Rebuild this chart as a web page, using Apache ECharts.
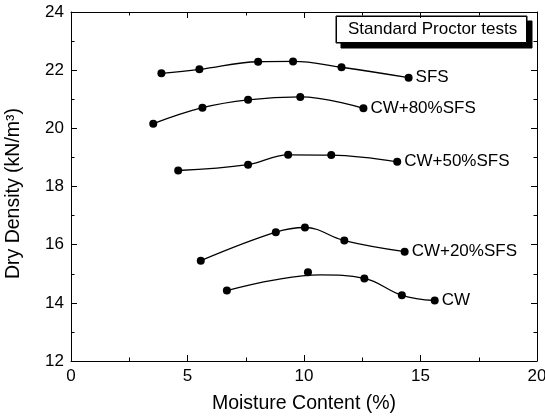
<!DOCTYPE html>
<html><head><meta charset="utf-8">
<script src="https://cdn.jsdelivr.net/npm/echarts@6/dist/echarts.min.js"></script>
<style>html,body{margin:0;padding:0;background:#fff}#c{width:545px;height:420px}</style>
</head><body><div id="c"></div>
<script>
const xTicks = [0, 5, 10, 15, 20];
const yTicks = [12, 14, 16, 18, 20, 22, 24];
const seriesNames = ['SFS', 'CW+80%SFS', 'CW+50%SFS', 'CW+20%SFS', 'CW'];
const sfsX = [3.88, 5.51, 8.03, 9.53, 11.61, 14.49];
const sfsY = [21.89, 22.03, 22.29, 22.30, 22.10, 21.74];
const cw80X = [3.53, 5.64, 7.60, 9.84, 12.55];
const cw80Y = [20.16, 20.71, 20.98, 21.08, 20.69];
const cw50X = [4.60, 7.60, 9.32, 11.17, 14.00];
const cw50Y = [18.55, 18.75, 19.09, 19.08, 18.85];
const cw20X = [5.57, 8.79, 10.04, 11.73, 14.32];
const cw20Y = [15.45, 16.43, 16.59, 16.14, 15.76];
const cwX = [6.69, 10.17, 12.59, 14.20, 15.61];
const cwY = [14.42, 15.05, 14.84, 14.26, 14.08];
// fitted curve for CW
const cwFitX = [6.69, 8.70, 10.70, 12.59, 14.20, 15.61];
const cwFitY = [14.42, 14.78, 14.96, 14.84, 14.26, 14.08];
const boxTitle = 'Standard Proctor tests';
const xName = 'Moisture Content (%)';
const yName = 'Dry Density (kN/m³)';

const FONT = 'Liberation Sans, Arial, sans-serif';
const zip = (xs, ys) => xs.map((x, i) => [x, ys[i]]);

const labelStyle = { show: true, formatter: '{a}', distance: 7, fontSize: 17, color: '#000', fontFamily: FONT };

function curveSeries(name, xs, ys, withSymbols) {
  return {
    name: name, type: 'line', data: zip(xs, ys), smooth: 0.4,
    symbol: 'circle', symbolSize: 8, showSymbol: withSymbols,
    itemStyle: { color: '#000', opacity: 1 }, lineStyle: { color: '#000', width: 1.3 },
    endLabel: labelStyle, emphasis: { disabled: true }, z: 3
  };
}

const series = [
  curveSeries(seriesNames[0], sfsX, sfsY, true),
  curveSeries(seriesNames[1], cw80X, cw80Y, true),
  curveSeries(seriesNames[2], cw50X, cw50Y, true),
  curveSeries(seriesNames[3], cw20X, cw20Y, true),
  curveSeries(seriesNames[4], cwFitX, cwFitY, false),
  { name: 'CW points', type: 'scatter', data: zip(cwX, cwY), symbol: 'circle', symbolSize: 8,
    itemStyle: { color: '#000', opacity: 1 }, emphasis: { disabled: true }, z: 4 }
];

const axisCommon = {
  axisLine: { show: true, onZero: false, lineStyle: { color: '#000', width: 1 } },
  axisTick: { show: true, inside: true, length: 6, lineStyle: { color: '#000', width: 1 } },
  minorTick: { show: true, splitNumber: 2, length: 3.5, lineStyle: { color: '#000', width: 1 } },
  splitLine: { show: false }, minorSplitLine: { show: false }
};

const xMin = xTicks[0], xMax = xTicks[xTicks.length - 1], xInt = xTicks[1] - xTicks[0];
const yMin = yTicks[0], yMax = yTicks[yTicks.length - 1], yInt = yTicks[1] - yTicks[0];

const option = {
  animation: false,
  backgroundColor: '#fff',
  textStyle: { fontFamily: FONT },
  graphic: [{
    type: 'group', x: 336, y: 16, z: 100,
    children: [
      { type: 'rect', x: 0, y: 0, shape: { width: 191, height: 27 },
        style: { fill: '#ffffff', stroke: '#000000', lineWidth: 1,
                 shadowColor: 'rgba(0,0,0,1)', shadowOffsetX: 5, shadowOffsetY: 5, shadowBlur: 0.01 } },
      { type: 'rect', x: 0.5, y: 0.5, shape: { width: 190, height: 26 }, style: { fill: '#ffffff', stroke: '#000000', lineWidth: 1 } },
      { type: 'text', x: 12, y: 5, style: { text: boxTitle, fill: '#000', font: '17px Liberation Sans, Arial, sans-serif' } }
    ]
  }],
  grid: { left: 71, right: 8, top: 12, bottom: 59, containLabel: false, outerBoundsMode: 'none' },
  xAxis: [
    Object.assign({}, axisCommon, {
      type: 'value', position: 'bottom', min: xMin, max: xMax, interval: xInt,
      axisLabel: { fontSize: 17, color: '#000', margin: 7, fontFamily: FONT },
      name: xName, nameLocation: 'middle', nameGap: 33,
      nameTextStyle: { fontSize: 19.5, color: '#000', fontFamily: FONT }
    }),
    Object.assign({}, axisCommon, {
      type: 'value', position: 'top', min: xMin, max: xMax, interval: xInt,
      axisLabel: { show: false }
    })
  ],
  yAxis: [
    Object.assign({}, axisCommon, {
      type: 'value', position: 'left', min: yMin, max: yMax, interval: yInt,
      axisLabel: { fontSize: 17, color: '#000', margin: 7, fontFamily: FONT },
      name: yName, nameLocation: 'middle', nameGap: 47, nameRotate: 90,
      nameTextStyle: { fontSize: 19.5, color: '#000', fontFamily: FONT, padding: [0, 14, 0, 0] }
    }),
    Object.assign({}, axisCommon, {
      type: 'value', position: 'right', min: yMin, max: yMax, interval: yInt,
      axisLabel: { show: false }
    })
  ],
  series: series
};

const chart = echarts.init(document.getElementById('c'), null, { renderer: 'canvas' });
chart.setOption(option);
</script>
</body></html>
